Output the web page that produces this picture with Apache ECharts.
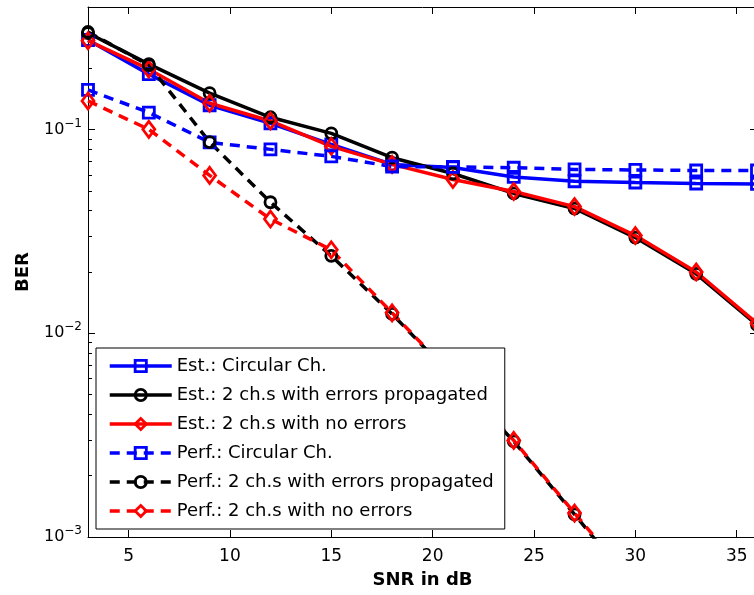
<!DOCTYPE html>
<html>
<head>
<meta charset="utf-8">
<script src="https://cdn.jsdelivr.net/npm/echarts@6/dist/echarts.min.js"></script>
<style>
  html, body { margin: 0; padding: 0; background: #fff; overflow: hidden; }
  #main { width: 800px; height: 595px; }
</style>
</head>
<body>
<div id="main"></div>
<script>
// SNR points (dB)
const snr = [3, 6, 9, 12, 15, 18, 21, 24, 27, 30, 33, 36]
// BER curves
const estCircular = [0.2754, 0.1873, 0.1317, 0.1074, 0.0847, 0.0675, 0.0652, 0.0586, 0.0558, 0.0550, 0.0544, 0.0541]
const estErrProp = [0.298, 0.2098, 0.151, 0.115, 0.0959, 0.0728, 0.0609, 0.0486, 0.0410, 0.0295, 0.0196, 0.0110]
const estNoErr = [0.2733, 0.198, 0.1348, 0.1103, 0.0828, 0.0675, 0.0569, 0.0497, 0.0419, 0.0302, 0.0200, 0.0112]
const perfCircular = [0.1567, 0.1213, 0.0866, 0.0800, 0.0739, 0.0659, 0.0656, 0.0650, 0.0638, 0.0634, 0.0630, 0.0630]
const perfErrProp = [0.3015, 0.2074, 0.0869, 0.0440, 0.0240, 0.01245, 0.00609, 0.00295, 0.00129, 0.00056]
const perfNoErr = [0.1383, 0.1003, 0.0596, 0.0364, 0.0257, 0.0126, 0.00616, 0.00298, 0.00131, 0.00058]

const xTicks = [5, 10, 15, 20, 25, 30, 35]
const yMajor = [0.001, 0.01, 0.1]
const yMinor = [0.002, 0.003, 0.004, 0.005, 0.006, 0.007, 0.008, 0.009,
  0.02, 0.03, 0.04, 0.05, 0.06, 0.07, 0.08, 0.09, 0.2, 0.3, 0.4]

const FONT = 'DejaVu Sans'
const DASH = [10, 7]

function pairs (ys) {
  return ys.map((y, i) => [snr[i], y])
}

function makeSeries (name, ys, color, symbol, size, dashed) {
  return {
    name: name,
    type: 'line',
    data: pairs(ys),
    symbol: symbol,
    symbolSize: size,
    clip: true,
    lineStyle: { color: color, width: 3.5, type: dashed ? DASH : 'solid', cap: 'butt' },
    itemStyle: { color: 'rgba(255,255,255,0)', borderColor: color, borderWidth: 2.8 },
    emphasis: { disabled: true }
  }
}

function yAxisDef (position, ticks, len, withLabels) {
  const ax = {
    type: 'log',
    logBase: 10,
    min: 0.001,
    max: 0.4,
    position: position,
    axisLine: { show: withLabels, lineStyle: { color: '#000', width: 1 } },
    axisTick: { show: true, inside: true, length: len, customValues: ticks, lineStyle: { color: '#000', width: 1 } },
    minorTick: { show: false },
    splitLine: { show: false },
    axisLabel: { show: false }
  }
  if (withLabels && position === 'left') {
    ax.axisLabel = {
      show: true,
      customValues: yMajor,
      margin: 6,
      formatter: function (v) {
        return '{b|10}{s|\u2212' + Math.round(-Math.log10(v)) + '}'
      },
      rich: {
        b: { fontFamily: FONT, fontSize: 16, color: '#000' },
        s: { fontFamily: FONT, fontSize: 12, color: '#000', padding: [0, 0, 12, 0] }
      }
    }
    ax.name = 'BER'
    ax.nameLocation = 'middle'
    ax.nameRotate = 90
    ax.nameGap = 56
    ax.nameTextStyle = { fontFamily: FONT, fontSize: 18, fontWeight: 'bold', color: '#000' }
  }
  return ax
}

function xAxisDef (position, withLabels) {
  const ax = {
    type: 'value',
    min: 3,
    max: 36,
    position: position,
    axisLine: { show: true, lineStyle: { color: '#000', width: 1 } },
    axisTick: { show: true, inside: true, length: 7, customValues: xTicks, lineStyle: { color: '#000' } },
    splitLine: { show: false },
    axisLabel: { show: false }
  }
  if (withLabels) {
    ax.axisLabel = { show: true, customValues: xTicks, margin: 11, fontFamily: FONT, fontSize: 17, color: '#000' }
    ax.name = 'SNR in dB'
    ax.nameLocation = 'middle'
    ax.nameGap = 34
    ax.nameTextStyle = { fontFamily: FONT, fontSize: 18, fontWeight: 'bold', color: '#000' }
  }
  return ax
}

const myChart = echarts.init(document.getElementById('main'), null, { renderer: 'canvas' })
const option = {
  animation: false,
  backgroundColor: '#fff',
  grid: { left: 88, top: 7, width: 669, height: 530, containLabel: false },
  legend: {
    orient: 'vertical',
    left: 96,
    top: 348,
    backgroundColor: '#fff',
    borderColor: '#000',
    borderWidth: 1,
    borderRadius: 0,
    padding: [9, 11, 9, 12],
    itemWidth: 62,
    itemHeight: 14,
    itemGap: 11,
    lineStyle: { width: 3.5 },
    itemStyle: { borderWidth: 2.8 },
    textStyle: { fontFamily: FONT, fontSize: 18, color: '#000' },
    data: ['Est.: Circular Ch.', 'Est.: 2 ch.s with errors propagated', 'Est.: 2 ch.s with no errors',
      'Perf.: Circular Ch.', 'Perf.: 2 ch.s with errors propagated', 'Perf.: 2 ch.s with no errors']
  },
  xAxis: [xAxisDef('bottom', true), xAxisDef('top', false)],
  yAxis: [
    yAxisDef('left', yMajor, 7, true),
    yAxisDef('left', yMinor, 4, false),
    yAxisDef('right', yMajor, 7, true)
  ],
  series: [
    makeSeries('Est.: Circular Ch.', estCircular, '#0000ff', 'rect', 11, false),
    makeSeries('Est.: 2 ch.s with errors propagated', estErrProp, '#000000', 'circle', 11, false),
    makeSeries('Est.: 2 ch.s with no errors', estNoErr, '#ff0000', 'diamond', [12, 16], false),
    makeSeries('Perf.: Circular Ch.', perfCircular, '#0000ff', 'rect', 11, true),
    makeSeries('Perf.: 2 ch.s with errors propagated', perfErrProp, '#000000', 'circle', 11, true),
    makeSeries('Perf.: 2 ch.s with no errors', perfNoErr, '#ff0000', 'diamond', [12, 16], true)
  ]
}
myChart.setOption(option)
</script>
</body>
</html>
